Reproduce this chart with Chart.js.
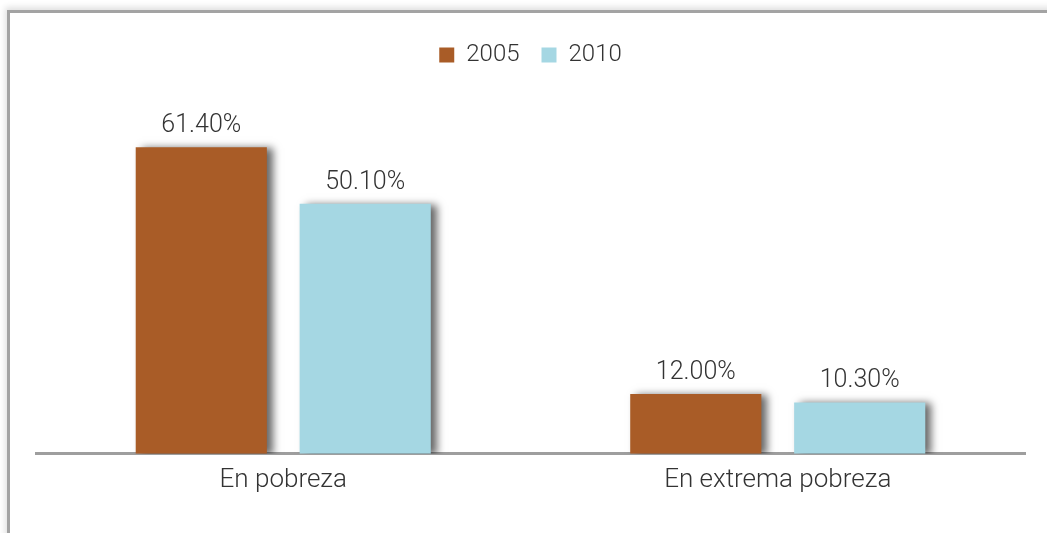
<!DOCTYPE html>
<html>
<head>
<meta charset="utf-8">
<script src="https://cdn.jsdelivr.net/npm/chart.js@4"></script>
<style>
    html, body { margin:0; padding:0; background:#fff; }
    #wrap { position:relative; width:1047px; height:533px; overflow:hidden; }
    #frame {
        position:absolute; left:7px; top:10px; width:1100px; height:600px;
        border-top:3px solid #a3a3a3; border-left:3px solid #a3a3a3;
        box-shadow:-2px -3px 6px rgba(0,0,0,0.12);
    }
    #equity { position:absolute; left:0; top:0; }
</style>
</head>
<body>
<div id="wrap">
    <div id="frame"></div>
    <canvas id="equity" width="1047" height="533"></canvas>
</div>
<script>
const categories = ["En pobreza", "En extrema pobreza"];
const years = ["2005", "2010"];
const values2005 = [61.4, 12.0];
const values2010 = [50.1, 10.3];
const colors = ["#a95c27", "#a5d7e3"];

const barShadow = {
    id:"barShadow",
    beforeDatasetsDraw(chart){
        const ctx = chart.ctx;
        ctx.save();
        ctx.shadowColor = "rgba(0,0,0,0.6)";
        ctx.shadowBlur = 8;
        ctx.shadowOffsetX = 6;
        ctx.shadowOffsetY = 1;
    },
    afterDatasetsDraw(chart){
        chart.ctx.restore();
    }
};

const valueLabels = {
    id:"valueLabels",
    afterDatasetsDraw(chart){
        const ctx = chart.ctx;
        ctx.save();
        ctx.font = "300 25px Roboto";
        ctx.fillStyle = "#333";
        ctx.textAlign = "center";
        ctx.textBaseline = "bottom";
        chart.data.datasets.forEach((ds, i) => {
            chart.getDatasetMeta(i).data.forEach((bar, j) => {
                ctx.fillText(ds.data[j].toFixed(2) + "%", bar.x, bar.y - 9);
            });
        });
        ctx.restore();
    }
};

new Chart(document.getElementById("equity"),{
    type:"bar",
    data:{
        labels:categories,
        datasets:[
            { label:years[0], data:values2005, backgroundColor:colors[0] },
            { label:years[1], data:values2010, backgroundColor:colors[1] }
        ]
    },
    options:{
        responsive:false,
        animation:false,
        events:[],
        categoryPercentage:0.663,
        barPercentage:0.8,
        layout:{ padding:{ left:36, right:22, top:21, bottom:34 } },
        plugins:{
            legend:{
                position:"top",
                labels:{
                    boxWidth:15, boxHeight:15,
                    color:"#333",
                    font:{ family:"Roboto", size:24, weight:300 },
                    padding:22
                }
            },
            tooltip:{ enabled:false }
        },
        scales:{
            x:{
                grid:{ display:false },
                border:{ display:true, color:"#9e9e9e", width:3 },
                ticks:{ color:"#333", font:{ family:"Roboto", size:26, weight:300 }, padding:3 }
            },
            y:{
                display:false,
                min:0,
                max:75.5
            }
        }
    },
    plugins:[barShadow, valueLabels]
});
</script>
</body>
</html>
